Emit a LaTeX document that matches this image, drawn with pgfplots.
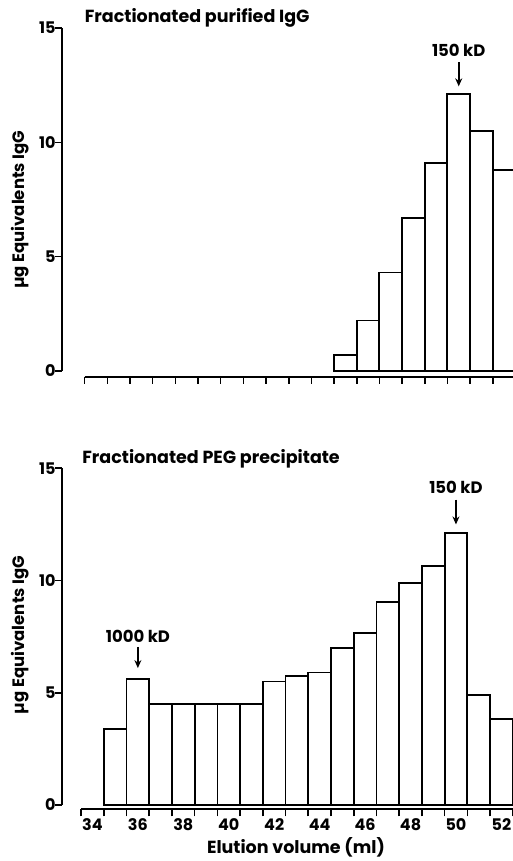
\documentclass[border=0pt]{standalone}
\usepackage{fontspec}
\setmainfont{Poppins}
\usepackage{pgfplots}
\pgfplotsset{compat=1.18}
\usetikzlibrary{arrows.meta}

\pgfplotsset{
  panel/.style={
    axis lines=left,
    axis line style={draw=none,-},
    ybar, bar width=1,
    clip=false,
    tick align=outside,
    major tick length=0pt,
    minor tick length=7pt,
    minor tick style={line width=1.6pt, black},
    ytick={0,5,10,15},
    minor ytick={0,5,10,15},
    xtick={34,36,...,52},
    minor xtick={33.5,34.5,...,52.5},
    ymax=15, xmax=52.5,
    /pgf/number format/assume math mode=true,
    tick label style={font=\bfseries\fontsize{16}{17}\selectfont},
    label style={font=\bfseries\fontsize{16.5}{18}\selectfont},
    yticklabel style={xshift=-3pt},
    xticklabel style={yshift=-6pt},
  },
  barstyle/.style={fill=white, draw=black, line width=1.8pt},
}
\tikzset{
  ann/.style={font=\bfseries\fontsize{16.5}{17}\selectfont, inner sep=0pt},
  ttl/.style={font=\bfseries\fontsize{17.5}{18}\selectfont, inner sep=0pt, anchor=west},
  arr/.style={-{Stealth[length=8pt,width=7pt]}, line width=1.6pt},
}

\begin{document}
\begin{tikzpicture}
\useasboundingbox (0,0) rectangle (513pt,861pt);

% ---------- top panel ----------
\begin{axis}[panel,
  at={(62pt,484pt)}, anchor=south west,
  x=22.67pt, y=22.85pt,
  xmin=32.5, ymin=-0.27,
  xticklabels={},
  ylabel={µg Equivalents IgG},
  ylabel style={at={(axis description cs:-0.0926,0.479)}, anchor=center},
]
\addplot[ybar, barstyle] coordinates {(45,0.7) (46,2.2) (47,4.3) (48,6.7) (49,9.1) (50,12.1) (51,10.5) (52,8.8)};
\draw[line width=1.8pt] (axis cs:32.5,0) -- (axis cs:32.5,15);
\draw[line width=1.8pt] (axis cs:33.5,-0.27) -- (axis cs:52.6,-0.27);
\node[ttl] at (axis cs:33.5,15.45) {Fractionated purified IgG};
\node[ann] at (axis cs:50,14.04) {150 kD};
\draw[arr] (axis cs:50,13.5) -- (axis cs:50,12.45);
\end{axis}

% ---------- bottom panel ----------
\begin{axis}[panel,
  at={(62pt,51.7pt)}, anchor=south west,
  x=22.72pt, y=22.45pt,
  xmin=32.66, ymin=-0.19,
  xlabel={Elution volume (ml)},
  xlabel style={at={(axis description cs:0.519,-0.129)}, anchor=base, font=\bfseries\fontsize{17.5}{18}\selectfont},
  ylabel={µg Equivalents IgG},
  ylabel style={at={(axis description cs:-0.0932,0.511)}, anchor=center},
]
\addplot[ybar, barstyle] coordinates {(35,3.4) (36,5.6) (37,4.5) (38,4.5) (39,4.5) (40,4.5) (41,4.5) (42,5.5) (43,5.75) (44,5.9) (45,7.0) (46,7.65) (47,9.05) (48,9.9) (49,10.65) (50,12.1) (51,4.9) (52,3.85)};
\draw[line width=1.8pt] (axis cs:32.66,0) -- (axis cs:32.66,15);
\draw[line width=1.8pt] (axis cs:33.5,-0.19) -- (axis cs:52.6,-0.19);
\node[ttl] at (axis cs:33.55,15.41) {Fractionated PEG precipitate};
\node[ann] at (axis cs:50,14.16) {150 kD};
\draw[arr] (axis cs:50,13.6) -- (axis cs:50,12.5);
\node[ann] at (axis cs:36,7.53) {1000 kD};
\draw[arr] (axis cs:36,7.04) -- (axis cs:36,6.1);
\end{axis}
\end{tikzpicture}
\end{document}
